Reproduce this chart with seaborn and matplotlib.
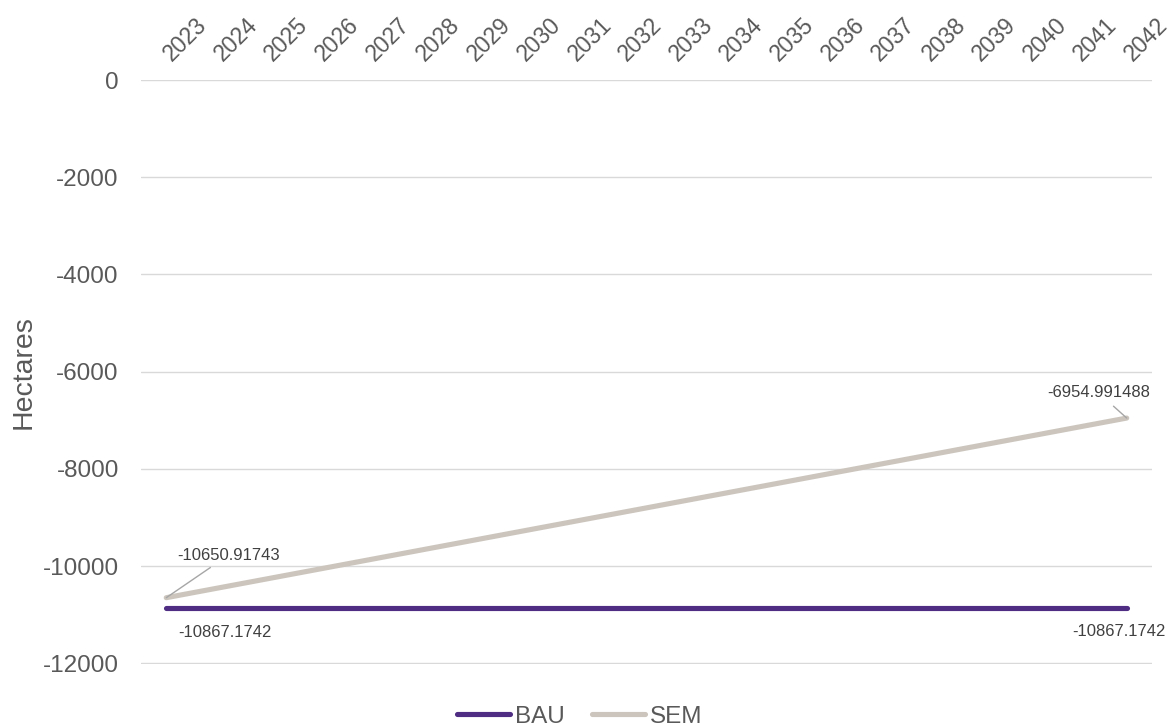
import pandas as pd
import seaborn as sns
import matplotlib.pyplot as plt
import matplotlib.transforms as mtransforms

years = list(range(2023, 2043))
bau = [-10867.1742] * 20
sem = [-10650.91743, -10456.4, -10261.9, -10067.4, -9872.8, -9678.3, -9483.8,
       -9289.3, -9094.7, -8900.2, -8705.7, -8511.2, -8316.6, -8122.1, -7927.6,
       -7733.1, -7538.5, -7344.0, -7149.5, -6954.991488]
yticks = [0, -2000, -4000, -6000, -8000, -10000, -12000]

df = pd.DataFrame({
    'Year': years * 2,
    'Hectares': bau + sem,
    'Scenario': ['BAU'] * 20 + ['SEM'] * 20
})

sns.set_style("white")
plt.rcParams['font.family'] = ['Liberation Sans', 'DejaVu Sans']
grey = '#595959'

fig = plt.figure(figsize=(11.7, 7.26), dpi=100)
ax = fig.add_axes([0.1205, 0.0854, 0.8641, 0.8044])

sns.lineplot(data=df, x='Year', y='Hectares', hue='Scenario',
             palette={'BAU': '#4E2D82', 'SEM': '#CBC5BD'},
             linewidth=3.7, ax=ax, solid_capstyle='round')

ax.set_xlim(2022.5, 2042.5)
ax.set_ylim(-12015, 0)
ax.set_yticks(yticks)
ax.set_yticklabels([str(v) for v in yticks], fontsize=17.5, color=grey)
ax.set_xticks(years)
ax.set_xticklabels([])
ax.tick_params(axis='x', length=0)
ax.tick_params(axis='y', length=0, pad=16)

# year labels along the top, rotated like the original
trans = mtransforms.blended_transform_factory(ax.transData, ax.transAxes)
shift = mtransforms.ScaledTranslation(6 / 100, 18 / 100, fig.dpi_scale_trans)
for y in years:
    ax.text(y, 1.0, str(y), transform=trans + shift, fontsize=16.5, color=grey,
            rotation=45, ha='left', va='baseline', rotation_mode='anchor',
            clip_on=False)

ax.yaxis.grid(True, color='#D9D9D9', linewidth=1)
ax.set_axisbelow(True)
for s in ax.spines.values():
    s.set_visible(False)
ax.set_xlabel('')
ax.set_ylabel('Hectares', fontsize=20.5, color=grey, labelpad=4)

lc = '#A6A6A6'
tc = '#404040'
ax.annotate(f'{sem[0]}', xy=(years[0], sem[0]), xytext=(2024.23, -9930),
            fontsize=12, color=tc, ha='center', va='bottom',
            arrowprops=dict(arrowstyle='-', color=lc, lw=1, shrinkA=2, shrinkB=0))
ax.annotate(f'{sem[-1]}', xy=(years[-1], sem[-1]), xytext=(2041.44, -6432),
            fontsize=12, color=tc, ha='center', va='center',
            arrowprops=dict(arrowstyle='-', color=lc, lw=1, shrinkA=3, shrinkB=0))
ax.text(2024.17, -11363, f'{bau[0]}', fontsize=12, color=tc,
        ha='center', va='center')
ax.text(2041.85, -11342, f'{bau[-1]}', fontsize=12, color=tc,
        ha='center', va='center')

leg = ax.legend(loc='center', bbox_to_anchor=(0.434, -0.09), ncol=2,
                frameon=False, fontsize=17.5, handlelength=2.2, handletextpad=0.2,
                columnspacing=1.1)
for t in leg.get_texts():
    t.set_color(grey)
for h in leg.get_lines():
    h.set_linewidth(3.7)

fig.savefig('out.png', dpi=100)
